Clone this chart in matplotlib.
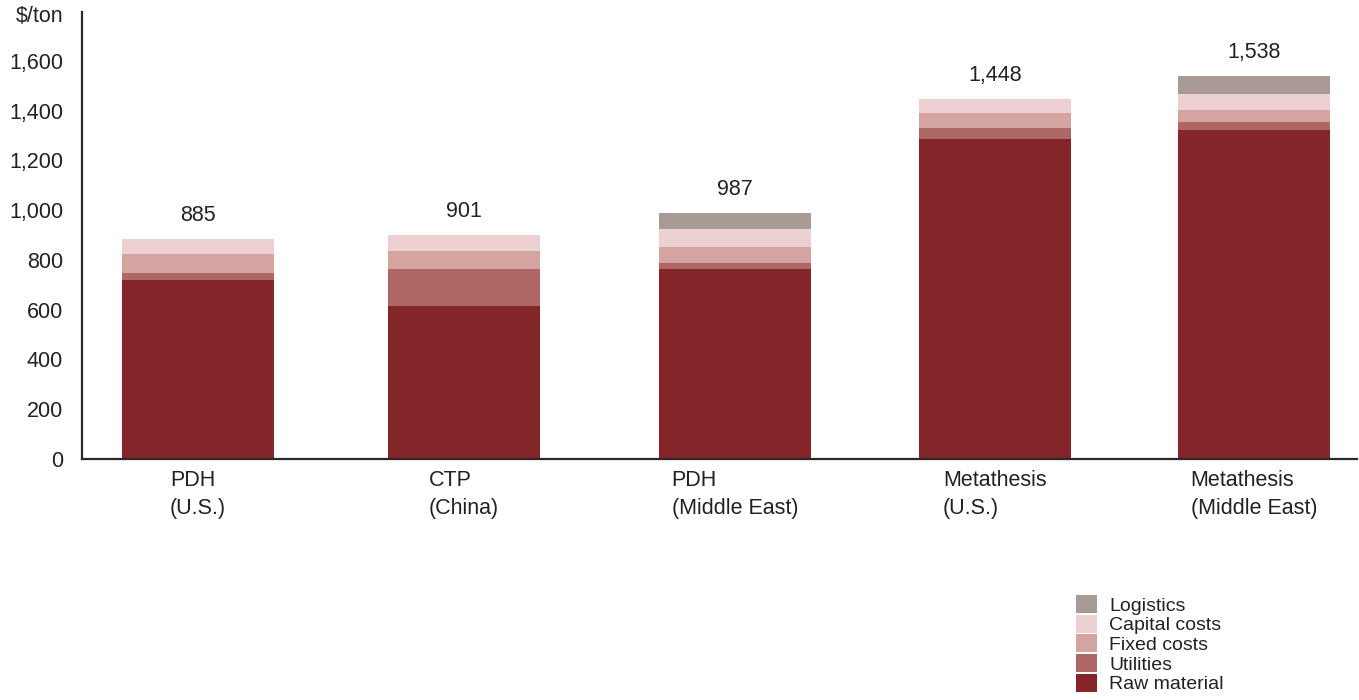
import matplotlib.pyplot as plt
import numpy as np

plt.rcParams['font.family'] = ['Liberation Sans', 'DejaVu Sans']

# cost build-up per route, $/ton
routes = ["PDH\n(U.S.)", "CTP\n(China)", "PDH\n(Middle East)",
          "Metathesis\n(U.S.)", "Metathesis\n(Middle East)"]
raw_material = [720, 615, 765, 1286, 1322]
utilities = [28, 150, 24, 44, 32]
fixed_costs = [75, 72, 64, 61, 49]
capital_costs = [62, 64, 72, 57, 64]
logistics = [0, 0, 62, 0, 71]
totals = [885, 901, 987, 1448, 1538]

names = ["Raw material", "Utilities", "Fixed costs", "Capital costs", "Logistics"]
colors = ["#84252a", "#ad6764", "#d4a5a0", "#edd0d1", "#a89b96"]
layers = [raw_material, utilities, fixed_costs, capital_costs, logistics]

txt = "#222222"
fs = 15.5

fig = plt.figure(figsize=(13.59, 7.0), dpi=100)
ax = fig.add_axes([0.0603, 0.3443, 0.938, 0.6386])

# slot centres of the five bars
x = np.array([0, 1.008, 2.034, 3.019, 4.0])
bottom = np.zeros(len(routes))
handles = []
for vals, c, n in zip(layers, colors, names):
    b = ax.bar(x, vals, 0.576, bottom=bottom, color=c, label=n, linewidth=0)
    handles.append(b)
    bottom += np.array(vals)

for i, t in enumerate(totals):
    ax.annotate(f"{t:,}", (x[i], bottom[i]), xytext=(0, 17), textcoords="offset points",
                ha="center", va="center", fontsize=fs, color=txt)

ax.set_xlim(-0.44, 4.39)
ax.set_ylim(0, 1797)
ax.set_yticks(range(0, 1601, 200))
ax.set_yticklabels([f"{v:,}" for v in range(0, 1601, 200)])
ax.set_xticks(x)
ax.set_xticklabels(routes, multialignment="left", linespacing=1.45)

ax.tick_params(axis="y", length=0, pad=13.5, labelsize=fs, labelcolor=txt)
ax.tick_params(axis="x", length=0, pad=8, labelsize=fs, labelcolor=txt)
for s in ["top", "right"]:
    ax.spines[s].set_visible(False)
for s in ["left", "bottom"]:
    ax.spines[s].set_linewidth(1.6)
    ax.spines[s].set_color("#2a2a2a")

fig.text(63 / 1359, 1 - 17 / 700, "$/ton", ha="right", va="center", fontsize=fs, color=txt)

fig.legend(handles[::-1], names[::-1], loc="upper left",
           bbox_to_anchor=(1076 / 1359, 1 - 595 / 700), frameon=False,
           fontsize=14, handlelength=1.08, handleheight=1.05, handletextpad=0.62,
           labelspacing=0, borderpad=0, borderaxespad=0, labelcolor=txt)

fig.savefig("out.png", dpi=100)
